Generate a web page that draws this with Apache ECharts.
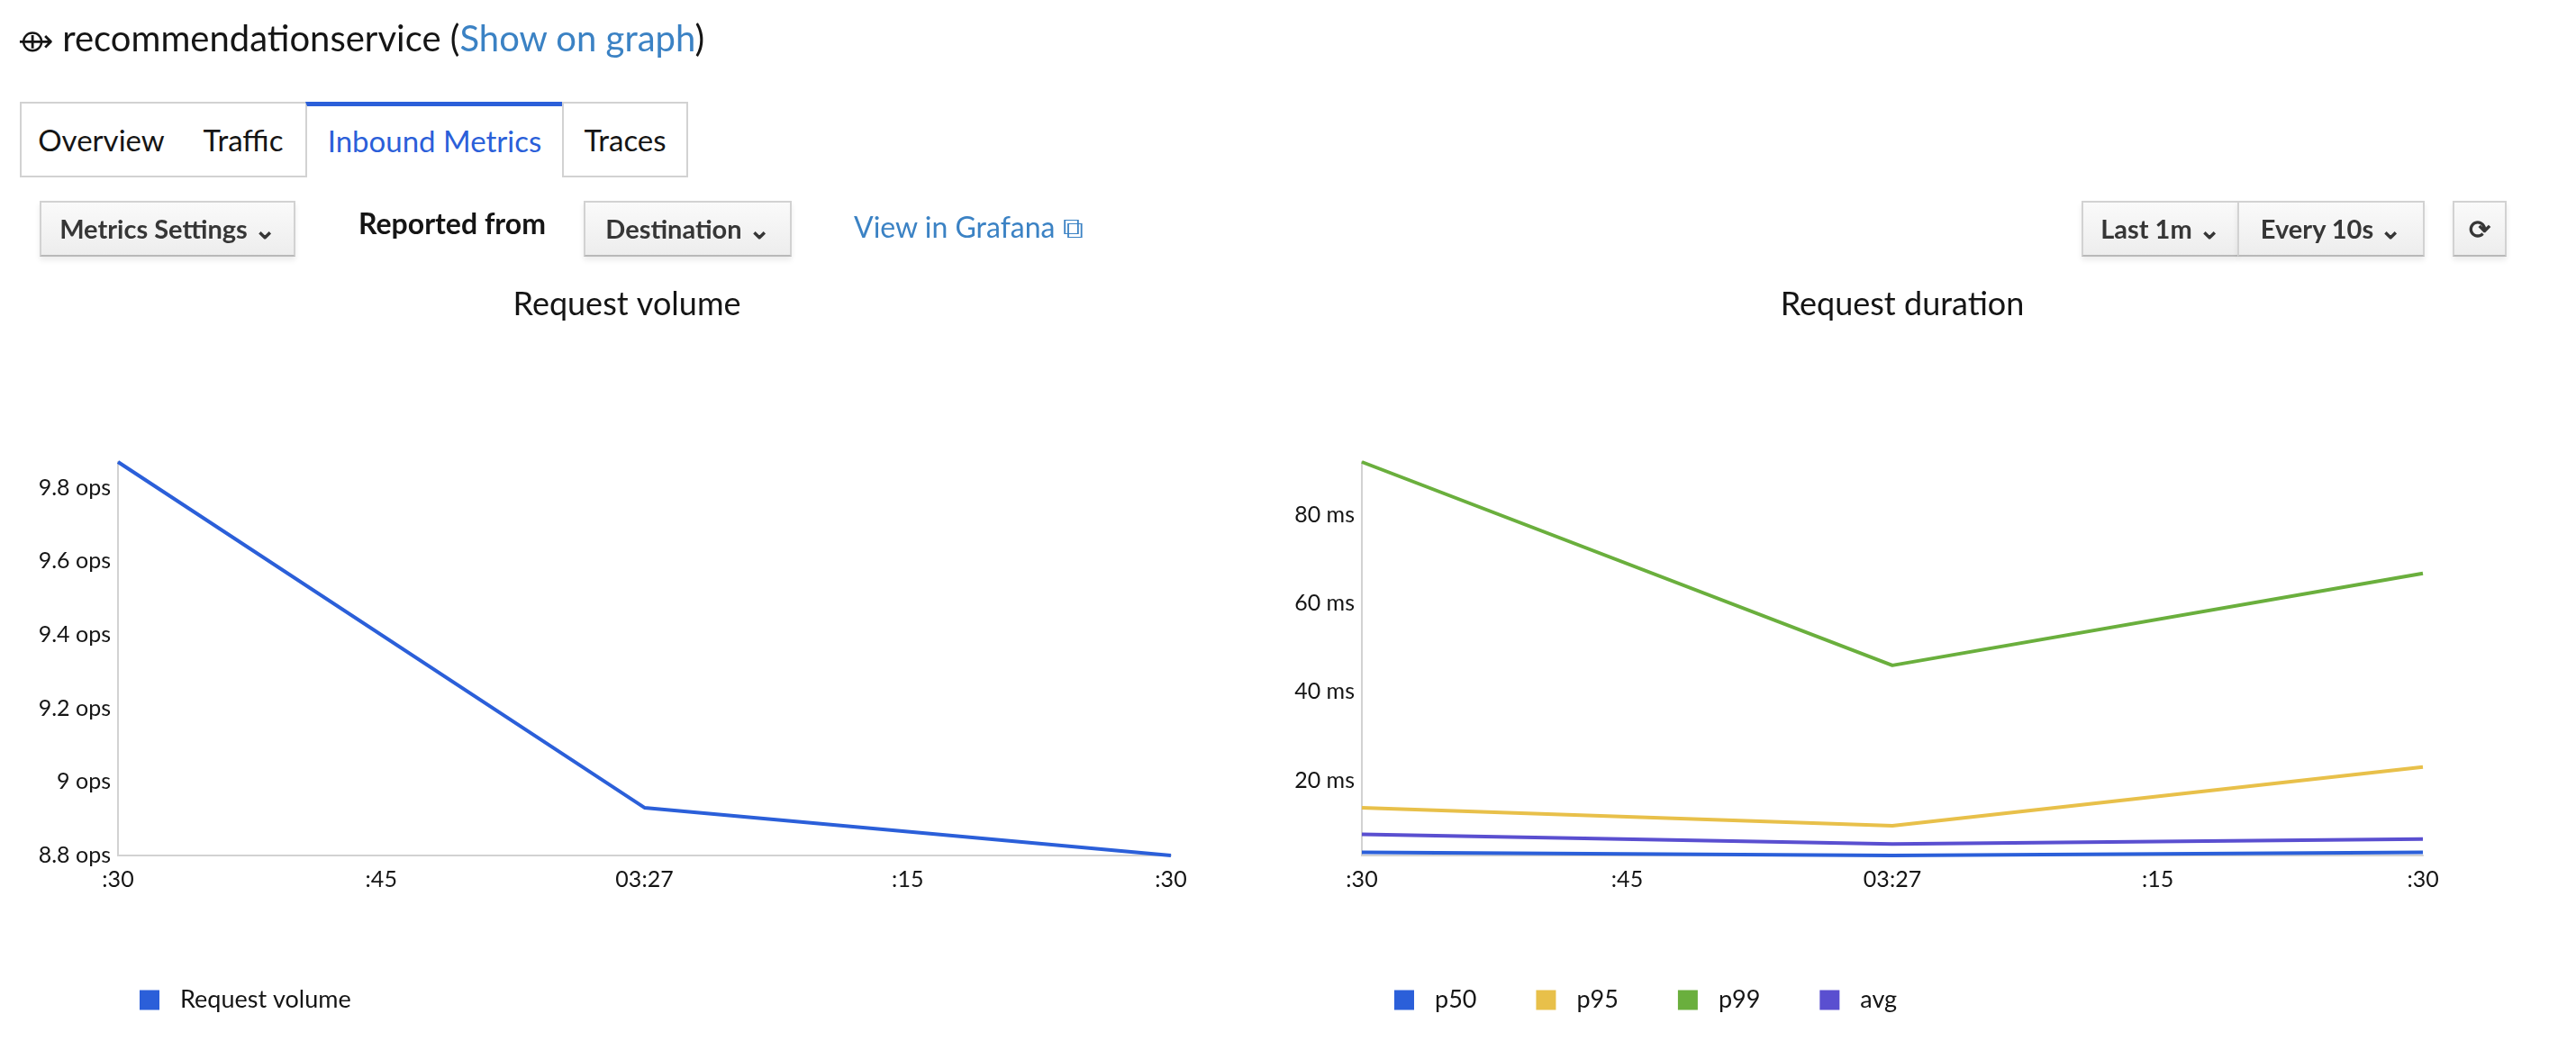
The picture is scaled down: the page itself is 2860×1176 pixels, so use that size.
<!DOCTYPE html>
<html>
<head>
<meta charset="utf-8">
<script src="https://cdn.jsdelivr.net/npm/echarts@6/dist/echarts.min.js"></script>
<style>
  body { margin: 0; background: #fff; font-family: Lato, "Noto Sans", sans-serif; color: #151515; }
  #chart { position: absolute; left: 0; top: 0; width: 2860px; height: 1176px; }
  .abs { position: absolute; z-index: 2; white-space: nowrap; }
  .tab { position: absolute; top: 113px; height: 84px; box-sizing: border-box; border: 2px solid #d2d2d2;
         font-size: 33px; line-height: 80px; text-align: center; background: #fff; z-index: 2; }
  .btn { position: absolute; top: 223px; height: 62px; box-sizing: border-box; border: 2px solid #d2d2d2;
         border-bottom-color: #b8b8b8; background: linear-gradient(#fafafa, #ededed); font-size: 29px;
         line-height: 58px; text-align: center; color: #363636; font-weight: bold; z-index: 2;
         box-shadow: 0 4px 6px rgba(0,0,0,0.08); }
</style>
</head>
<body>
<div class="abs" style="left:20px;top:18px;font-size:40px;">
  <span style="font-size:34px;">⟴</span> recommendationservice (<span style="color:#3b82c4;">Show on graph</span>)
</div>
<div class="tab" style="left:22px;width:181px;">Overview</div>
<div class="tab" style="left:201px;width:140px;border-left:none;">Traffic</div>
<div class="tab" style="left:339px;width:287px;border-top:5px solid #2b5fd9;border-bottom:none;color:#2b5fd9;line-height:76px;">Inbound Metrics</div>
<div class="tab" style="left:624px;width:140px;">Traces</div>

<div class="btn" style="left:44px;width:284px;">Metrics Settings ⌄</div>
<div class="abs" style="left:398px;top:228px;font-size:32px;font-weight:bold;">Reported from</div>
<div class="btn" style="left:648px;width:231px;">Destination ⌄</div>
<div class="abs" style="left:948px;top:232px;font-size:32px;color:#3b82c4;">View in Grafana ⧉</div>
<div class="btn" style="left:2311px;width:175px;">Last 1m ⌄</div>
<div class="btn" style="left:2484px;width:208px;">Every 10s ⌄</div>
<div class="btn" style="left:2723px;width:60px;">⟳</div>

<div id="chart"></div>
<script>
"use strict";

// 横轴标签
let timeLabels = [':30', ':45', '03:27', ':15', ':30'];
// 请求量 (ops)
let requestVolume = [9.87, null, 8.93, null, 8.80];
let volumeTicks = [8.8, 9, 9.2, 9.4, 9.6, 9.8];
// 请求时长 (ms)
let p50 = [3.7, null, 3.0, null, 3.7];
let p95 = [13.8, null, 9.7, null, 23.0];
let p99 = [92.0, null, 46.0, null, 66.8];
let avg = [7.8, null, 5.6, null, 6.7];
let durationTicks = [20, 40, 60, 80];

let colors = {
  volume: '#2b5fd9',
  p50: '#2b5fd9',
  p95: '#e8c04a',
  p99: '#6aaf3d',
  avg: '#5a4fd0',
};

let myChart = echarts.init(document.getElementById('chart'));

let axisLabelStyle = { color: '#151515', fontSize: 25, fontFamily: 'Lato' };

function xAxisOf(gridIndex) {
  return {
    type: 'category',
    gridIndex: gridIndex,
    data: timeLabels,
    boundaryGap: false,
    axisTick: { show: false },
    axisLine: { lineStyle: { color: '#d2d2d2', width: 2 } },
    axisLabel: Object.assign({ margin: 14, interval: 0 }, axisLabelStyle),
  };
}

function lineOf(name, data, color, axis) {
  return {
    name: name,
    type: 'line',
    xAxisIndex: axis,
    yAxisIndex: axis,
    data: data,
    connectNulls: true,
    symbol: 'none',
    lineStyle: { color: color, width: 4 },
    itemStyle: { color: color },
  };
}

let option = {
  animation: false,
  title: [
    { text: 'Request volume', left: 691, top: 315, textAlign: 'center',
      textStyle: { fontSize: 36, fontWeight: 'normal', color: '#151515', fontFamily: 'Lato' } },
    { text: 'Request duration', left: 2107, top: 315, textAlign: 'center',
      textStyle: { fontSize: 36, fontWeight: 'normal', color: '#151515', fontFamily: 'Lato' } },
  ],
  legend: [
    { data: ['Request volume'], left: 150, top: 1092, icon: 'rect', itemWidth: 22, itemHeight: 22,
      itemGap: 60, textStyle: { fontSize: 27, color: '#151515', fontFamily: 'Lato', padding: [0, 0, 0, 18] } },
    { data: ['p50', 'p95', 'p99', 'avg'], left: 1543, top: 1092, icon: 'rect', itemWidth: 22, itemHeight: 22,
      itemGap: 66, textStyle: { fontSize: 27, color: '#151515', fontFamily: 'Lato', padding: [0, 0, 0, 18] } },
  ],
  grid: [
    { left: 131, width: 1169, top: 513, height: 437 },
    { left: 1512, width: 1178, top: 513, height: 437 },
  ],
  xAxis: [xAxisOf(0), xAxisOf(1)],
  yAxis: [
    {
      type: 'value', gridIndex: 0, min: 8.8, max: 9.87,
      splitLine: { show: false },
      axisLine: { show: true, lineStyle: { color: '#d2d2d2', width: 2 } },
      axisTick: { show: false },
      axisLabel: Object.assign({
        customValues: volumeTicks,
        formatter: function (v) { return (+v.toFixed(1)) + ' ops'; },
      }, axisLabelStyle),
    },
    {
      type: 'value', gridIndex: 1, min: 3.0, max: 92,
      splitLine: { show: false },
      axisLine: { show: true, lineStyle: { color: '#d2d2d2', width: 2 } },
      axisTick: { show: false },
      axisLabel: Object.assign({
        customValues: durationTicks,
        formatter: function (v) { return v + ' ms'; },
      }, axisLabelStyle),
    },
  ],
  series: [
    lineOf('Request volume', requestVolume, colors.volume, 0),
    lineOf('p50', p50, colors.p50, 1),
    lineOf('p95', p95, colors.p95, 1),
    lineOf('p99', p99, colors.p99, 1),
    lineOf('avg', avg, colors.avg, 1),
  ],
};

myChart.setOption(option);
</script>
</body>
</html>
